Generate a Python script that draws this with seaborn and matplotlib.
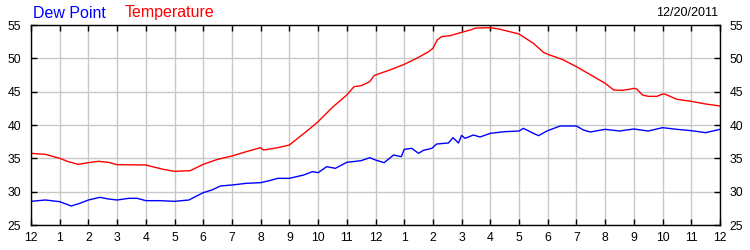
import matplotlib
matplotlib.use("Agg")
import matplotlib.pyplot as plt
import seaborn as sns
import pandas as pd

# ---- data ----
temp_hours = [0, 0.5, 1, 1.3, 1.65, 2, 2.35, 2.7, 3, 4, 4.6, 5, 5.55, 6, 6.5, 7, 7.5,
              8, 8.1, 8.6, 9, 9.26, 9.7, 10, 10.5, 11, 11.25, 11.5, 11.8, 11.95, 12,
              12.5, 13, 13.5, 13.85, 14, 14.15, 14.3, 14.6, 14.8, 15, 15.3, 15.5, 16,
              16.3, 17, 17.5, 17.85, 18, 18.5, 19, 19.5, 20, 20.3, 20.6, 20.9, 21,
              21.1, 21.3, 21.5, 21.8, 22, 22.1, 22.5, 23, 23.5, 24]
temp_values = [35.75, 35.6, 35.0, 34.5, 34.1, 34.35, 34.55, 34.4, 34.05, 34.0, 33.35,
               33.05, 33.15, 34.1, 34.85, 35.35, 36.0, 36.6, 36.25, 36.6, 37.0, 37.9,
               39.4, 40.5, 42.65, 44.5, 45.75, 45.9, 46.5, 47.4, 47.5, 48.25, 49.1,
               50.15, 51.0, 51.5, 52.75, 53.25, 53.4, 53.65, 53.9, 54.25, 54.55, 54.6,
               54.4, 53.65, 52.25, 50.9, 50.6, 49.85, 48.75, 47.5, 46.25, 45.25, 45.2,
               45.4, 45.5, 45.4, 44.5, 44.3, 44.3, 44.65, 44.6, 43.85, 43.55, 43.15,
               42.85]

dew_hours = [0, 0.5, 1, 1.4, 1.7, 2, 2.4, 2.7, 3, 3.4, 3.7, 4, 4.5, 5, 5.5, 6, 6.3,
             6.6, 7, 7.5, 8, 8.3, 8.6, 9, 9.5, 9.8, 10, 10.3, 10.6, 11, 11.5, 11.8,
             12, 12.3, 12.63, 12.9, 13, 13.26, 13.5, 13.67, 13.96, 14.13, 14.54, 14.7,
             14.89, 15.0, 15.12, 15.41, 15.64, 16, 16.5, 17, 17.15, 17.5, 17.68, 17.97,
             18.43, 19, 19.24, 19.48, 20, 20.5, 21, 21.5, 22, 22.5, 23, 23.5, 24]
dew_values = [28.55, 28.75, 28.5, 27.85, 28.25, 28.75, 29.15, 28.9, 28.75, 29.0, 29.0,
              28.65, 28.65, 28.55, 28.75, 29.85, 30.25, 30.85, 31.0, 31.25, 31.35,
              31.65, 32.0, 32.0, 32.5, 33.0, 32.85, 33.75, 33.5, 34.4, 34.65, 35.1,
              34.75, 34.35, 35.5, 35.25, 36.35, 36.5, 35.75, 36.2, 36.5, 37.15, 37.3,
              38.1, 37.3, 38.45, 38.0, 38.5, 38.2, 38.75, 39.0, 39.1, 39.5, 38.75, 38.4,
              39.1, 39.85, 39.85, 39.25, 38.95, 39.35, 39.1, 39.4, 39.1, 39.6, 39.35,
              39.15, 38.85, 39.35]

hour_labels = ["12", "1", "2", "3", "4", "5", "6", "7", "8", "9", "10", "11",
               "12", "1", "2", "3", "4", "5", "6", "7", "8", "9", "10", "11", "12"]
y_ticks = [25, 30, 35, 40, 45, 50, 55]
legend_names = ["Dew Point", "Temperature"]
date_label = "12/20/2011"

# ---- plot ----
sns.set_style("white")
plt.rcParams["font.family"] = ["Liberation Sans", "DejaVu Sans"]

fig = plt.figure(figsize=(7.5, 2.5), dpi=100)
ax = fig.add_axes([31 / 750, 25 / 250, 689 / 750, 200 / 250])

temp_df = pd.DataFrame({"hour": temp_hours, "value": temp_values})
dew_df = pd.DataFrame({"hour": dew_hours, "value": dew_values})
sns.lineplot(data=dew_df, x="hour", y="value", color="#0000FF", lw=1.0, ax=ax)
sns.lineplot(data=temp_df, x="hour", y="value", color="#FF0000", lw=1.0, ax=ax)

ax.set_xlim(0, 24)
ax.set_ylim(25, 55)
ax.set_xticks(range(25))
ax.set_xticklabels(hour_labels)
ax.set_yticks(y_ticks)
ax.set_xlabel("")
ax.set_ylabel("")
ax.grid(True, color="#C8C8C8", lw=1.0)
ax.set_axisbelow(True)
for s in ax.spines.values():
    s.set_color("black")
    s.set_linewidth(1.0)
    s.set_visible(True)
ax.tick_params(axis="x", direction="in", top=True, bottom=True, length=4, width=1,
               labelsize=8.8, pad=5, colors="black")
ax.tick_params(axis="y", direction="in", left=True, right=True, labelleft=True,
               labelright=True, length=4, width=1, labelsize=8.8, pad=7, colors="black")

fig.text(33 / 750, 1 - 13 / 250, legend_names[0], color="#0000FF", fontsize=11.5,
         va="center", ha="left")
fig.text(125 / 750, 1 - 13 / 250, legend_names[1], color="#FF0000", fontsize=11.5,
         va="center", ha="left")
fig.text(718 / 750, 1 - 13 / 250, date_label, color="black", fontsize=9,
         va="center", ha="right")

fig.savefig("out.png", dpi=100, facecolor="white")
